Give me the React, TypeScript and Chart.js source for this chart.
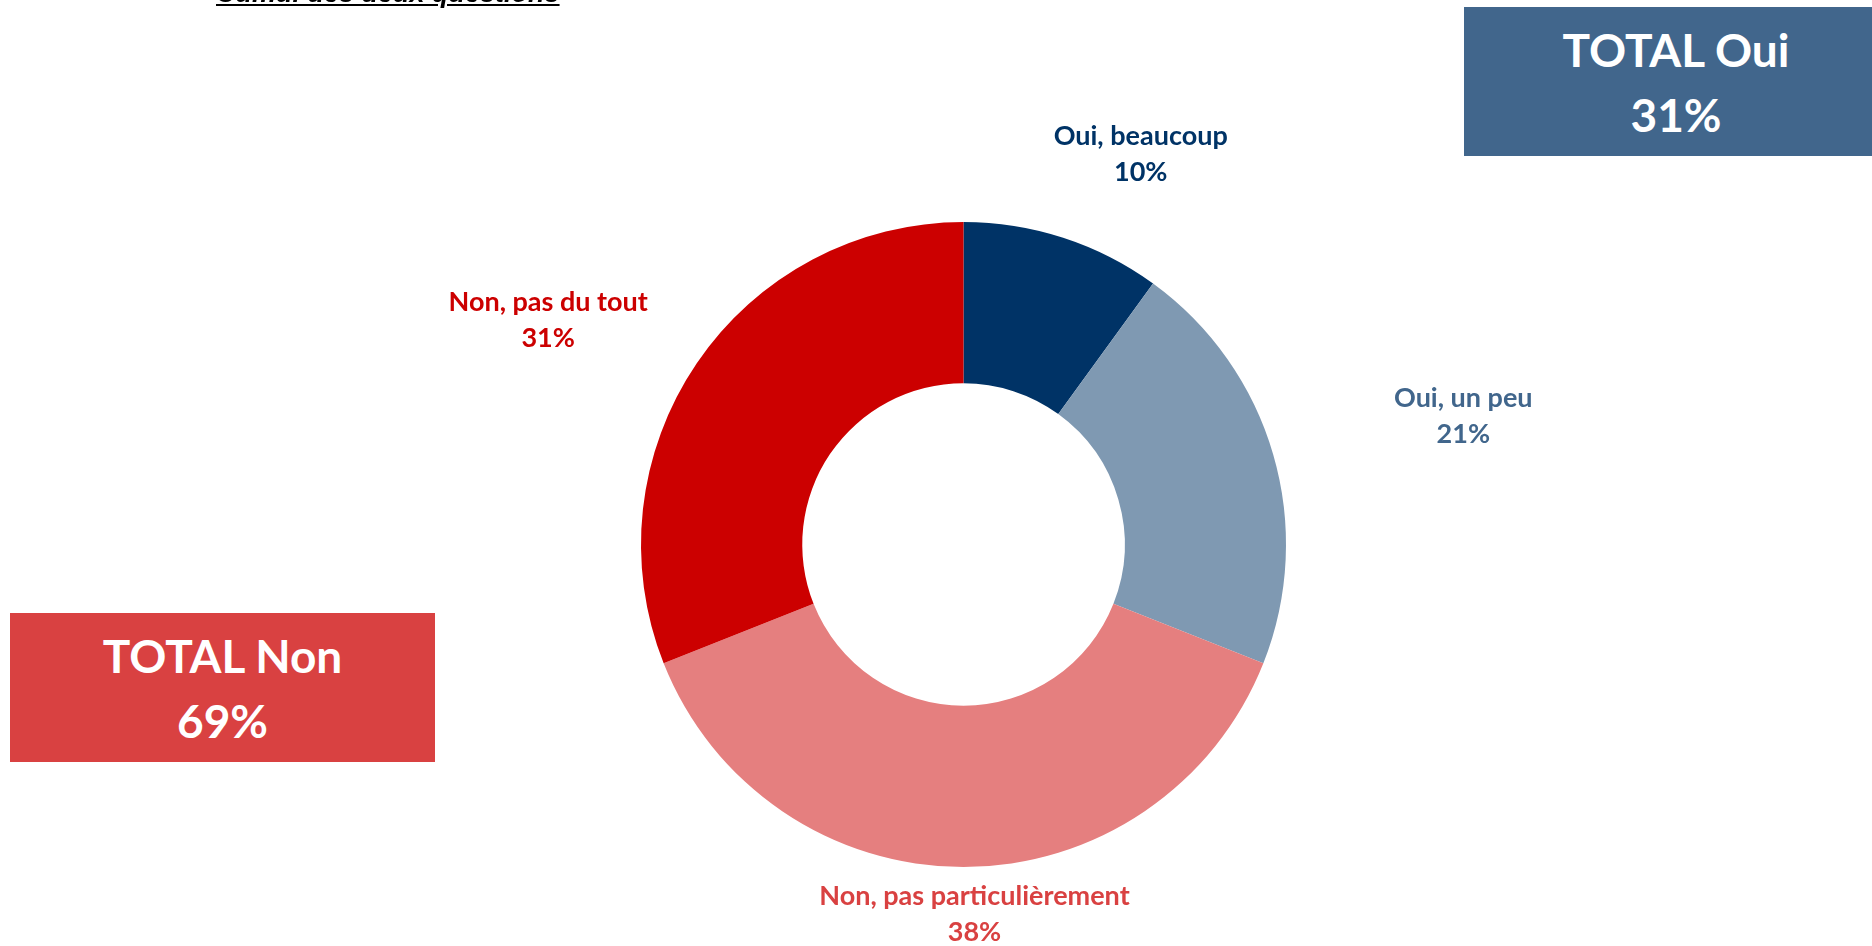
import React, { useEffect, useRef } from "react";
import { Chart, registerables } from "chart.js";

Chart.register(...registerables);

const categories = ["Oui, beaucoup", "Oui, un peu", "Non, pas particulièrement", "Non, pas du tout"];
const values = [10, 21, 38, 31];
const sliceColors = ["#003366", "#7F99B2", "#E57F7F", "#CC0000"];
const labelColors = ["#003366", "#41668C", "#D94141", "#CC0000"];
// label placement: radial distance (x outer radius) and angular nudge (deg) from slice middle
const labelRadius = [1.33, 1.6, 1.147, 1.464];
const labelAngleNudge = [6.4, 1.8, -1.7, -5.8];

const totalLabels = ["TOTAL Oui", "TOTAL Non"];
const totalValues = [31, 69];
const totalColors = ["#41668C", "#D94141"];

const titleText = "Cumul des deux questions";

const FONT = "Lato, 'Open Sans', sans-serif";

const labelPlugin = {
  id: "outerLabels",
  afterDatasetsDraw(chart: any) {
    const ctx = chart.ctx;
    const meta = chart.getDatasetMeta(0);
    ctx.save();
    ctx.font = `bold 27px ${FONT}`;
    ctx.textAlign = "center";
    ctx.textBaseline = "middle";
    meta.data.forEach((el: any, i: number) => {
      const p = el.getProps(["x", "y", "startAngle", "endAngle", "outerRadius"], true);
      const mid = (p.startAngle + p.endAngle) / 2 + (labelAngleNudge[i] * Math.PI) / 180;
      const r = p.outerRadius * labelRadius[i];
      const px = p.x + Math.cos(mid) * r;
      const py = p.y + Math.sin(mid) * r;
      ctx.fillStyle = labelColors[i];
      ctx.fillText(categories[i], px, py - 18);
      ctx.fillText(`${values[i]}%`, px, py + 18);
    });
    ctx.restore();
  },
};

export default function App() {
  const ref = useRef<HTMLCanvasElement>(null);

  useEffect(() => {
    if (!ref.current) return;
    const chart = new Chart(ref.current, {
      type: "doughnut",
      data: {
        labels: categories,
        datasets: [
          {
            data: values,
            backgroundColor: sliceColors,
            borderWidth: 0,
          },
        ],
      },
      options: {
        responsive: false,
        animation: false,
        cutout: "50%",
        layout: { padding: { left: 641, right: 586, top: 222, bottom: 79 } },
        plugins: {
          legend: { display: false },
          tooltip: { enabled: false },
          title: { display: false },
        },
      },
      plugins: [labelPlugin],
    });
    return () => chart.destroy();
  }, []);

  const boxStyle = (i: number): React.CSSProperties => ({
    position: "absolute",
    background: totalColors[i],
    color: "#ffffff",
    fontFamily: FONT,
    fontWeight: 700,
    fontSize: "46px",
    lineHeight: "65px",
    textAlign: "center",
    display: "flex",
    flexDirection: "column",
    justifyContent: "center",
    alignItems: "center",
  });

  return (
    <div
      style={{
        position: "absolute",
        left: 0,
        top: 0,
        width: 1872,
        height: 946,
        overflow: "hidden",
        background: "#ffffff",
      }}
    >
      <canvas ref={ref} width={1872} height={946} style={{ position: "absolute", left: 0, top: 0 }} />
      <div
        style={{
          position: "absolute",
          left: 216,
          top: -20,
          fontFamily: "'Liberation Sans', Arial, sans-serif",
          fontWeight: 700,
          fontStyle: "italic",
          textDecoration: "underline",
          fontSize: "27px",
          lineHeight: "27px",
          whiteSpace: "nowrap",
          color: "#000",
        }}
      >
        {titleText}
      </div>
      <div style={{ ...boxStyle(0), left: 1464, top: 7, width: 408, height: 149, paddingLeft: 16, boxSizing: "border-box" }}>
        <div>{totalLabels[0]}</div>
        <div>{totalValues[0]}%</div>
      </div>
      <div style={{ ...boxStyle(1), left: 10, top: 613, width: 425, height: 149 }}>
        <div>{totalLabels[1]}</div>
        <div>{totalValues[1]}%</div>
      </div>
    </div>
  );
}
